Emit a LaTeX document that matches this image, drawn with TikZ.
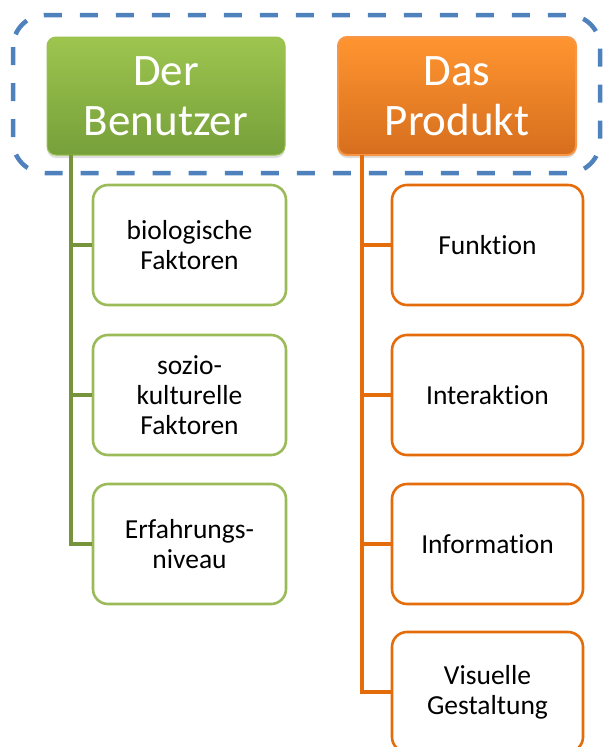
\documentclass[tikz,border=0pt]{standalone}
\usepackage{fontspec}
\setmainfont[Ligatures=NoCommon,RawFeature={-liga;-clig;-dlig}]{Carlito}
\usetikzlibrary{shadows}
\definecolor{gtop}{HTML}{9DC54F}
\definecolor{gbot}{HTML}{76A03A}
\definecolor{gborder}{HTML}{9BBB59}
\definecolor{gline}{HTML}{77933C}
\definecolor{otop}{HTML}{FF9530}
\definecolor{obot}{HTML}{D66E1E}
\definecolor{oborder}{HTML}{F79646}
\definecolor{oline}{HTML}{E46C0A}
\definecolor{dashblue}{HTML}{4F81BD}
\begin{document}
\begin{tikzpicture}[x=1pt,y=-1pt,
  header/.style={rounded corners=9pt, minimum width=238pt, minimum height=118pt,
     align=center, text=white, inner sep=0pt,
     font=\fontsize{45}{50}\selectfont,
     drop shadow={shadow xshift=0pt, shadow yshift=-3pt, opacity=0.25}},
  ghead/.style={header, top color=gtop, bottom color=gbot, draw=gtop!90!gbot, line width=1pt},
  ohead/.style={header, top color=otop, bottom color=obot, draw=oborder, line width=2pt},
  child/.style={rounded corners=15pt, fill=white, line width=2.6pt, align=center,
     inner sep=0pt, font=\fontsize{27.5}{30}\selectfont},
  gchild/.style={child, draw=gborder, minimum width=193pt, minimum height=120pt},
  ochild/.style={child, draw=oline, minimum width=191pt, minimum height=120pt},
  gconn/.style={draw=gline, line width=3.2pt},
  oconn/.style={draw=oline, line width=3.2pt},
  group/.style={draw=dashblue, line width=4.5pt, dash pattern=on 18pt off 18pt, rounded corners=32pt}
]
\useasboundingbox (0,0) rectangle (603,747);
% dashed group frame
\draw[group] (13,15) rectangle (600,173);
% headers
\node[ghead] (gh) at (166,96) {Der\\Benutzer};
\node[ohead] (oh) at (457,96) {Das\\Produkt};
% children
\node[gchild] (g1) at (189.5,245) {biologische\\Faktoren};
\node[gchild] (g2) at (189.5,395) {sozio-\\kulturelle\\Faktoren};
\node[gchild] (g3) at (189.5,544) {Erfahrungs-\\niveau};
\node[ochild] (o1) at (487.5,245) {Funktion};
\node[ochild] (o2) at (487.5,395) {Interaktion};
\node[ochild] (o3) at (487.5,544) {Information};
\node[ochild] (o4) at (487.5,692) {Visuelle\\Gestaltung};
% trunks
\coordinate (gt) at (71,155);
\coordinate (ot) at (362,155);
\draw[gconn] (gt) |- (g1.west);
\draw[gconn] (gt) |- (g2.west);
\draw[gconn] (gt) |- (g3.west);
\draw[oconn] (ot) |- (o1.west);
\draw[oconn] (ot) |- (o2.west);
\draw[oconn] (ot) |- (o3.west);
\draw[oconn] (ot) |- (o4.west);
\end{tikzpicture}
\end{document}
